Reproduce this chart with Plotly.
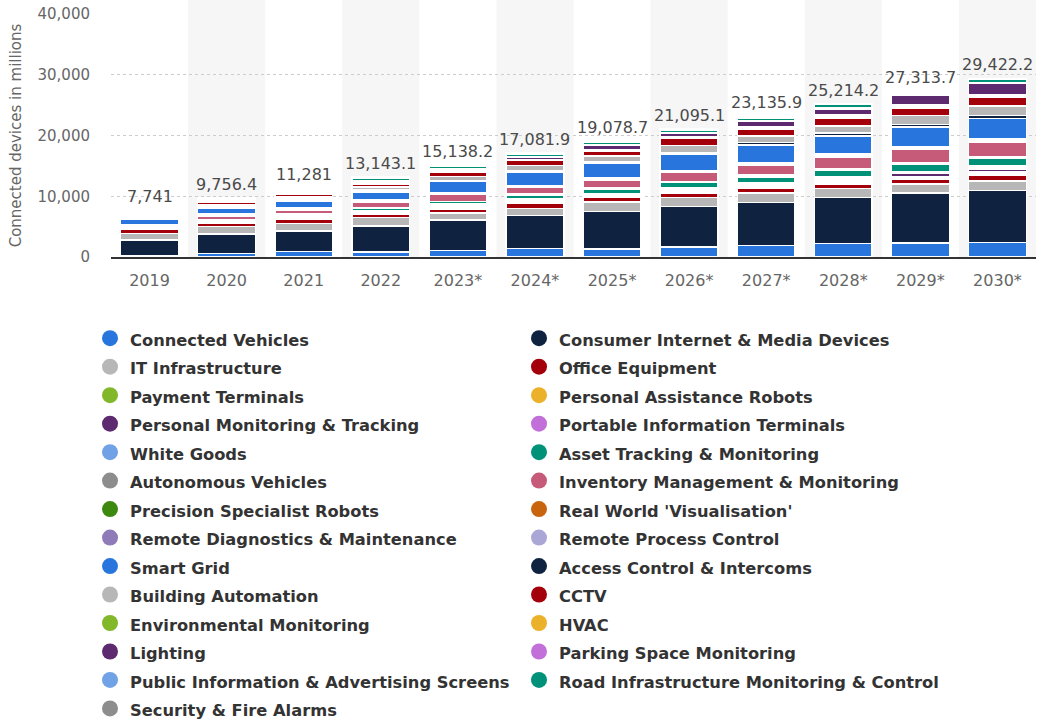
import plotly.graph_objects as go

years = ["2019", "2020", "2021", "2022", "2023*", "2024*", "2025*", "2026*",
         "2027*", "2028*", "2029*", "2030*"]
totals = [7741, 9756.4, 11281, 13143.1, 15138.2, 17081.9, 19078.7, 21095.1,
          23135.9, 25214.2, 27313.7, 29422.2]

series_names = [
    "Connected Vehicles", "Consumer Internet & Media Devices", "IT Infrastructure",
    "Office Equipment", "Payment Terminals", "Personal Assistance Robots",
    "Personal Monitoring & Tracking", "Portable Information Terminals", "White Goods",
    "Asset Tracking & Monitoring", "Autonomous Vehicles", "Inventory Management & Monitoring",
    "Precision Specialist Robots", "Real World 'Visualisation'",
    "Remote Diagnostics & Maintenance", "Remote Process Control", "Smart Grid",
    "Access Control & Intercoms", "Building Automation", "CCTV",
    "Environmental Monitoring", "HVAC", "Lighting", "Parking Space Monitoring",
    "Public Information & Advertising Screens", "Road Infrastructure Monitoring & Control",
    "Security & Fire Alarms",
]

colors = [
    "#2876dd", "#0f2340", "#b7b7b7", "#a3000c", "#80b82a", "#ecb12a", "#5d2a70",
    "#c26fd9", "#70a2e5", "#009278", "#8d8d8d", "#c55b78", "#3d880f", "#c8640e",
    "#8f7bb7", "#aaa6d6", "#2876dd", "#0f2340", "#b7b7b7", "#a3000c", "#80b82a",
    "#ecb12a", "#5d2a70", "#c26fd9", "#70a2e5", "#009278", "#8d8d8d",
]

connected_vehicles = [200, 610, 885, 829, 1104, 1379, 1351, 1653, 1874, 2203, 2312, 2423]
consumer_internet = [2635, 3160, 3378, 4258, 4972, 5439, 6153, 6648, 7086, 7581, 8186, 8541]
it_infrastructure = [1043, 1248, 1291, 1428, 1208, 1180, 1511, 1483, 1538, 1483, 1483, 1539]
office_equipment = [715, 564, 687, 550, 659, 797, 769, 742, 796, 714, 742, 961]
payment_terminals = [64, 70, 77, 110, 154, 148, 110, 170, 198, 258, 247, 302]
personal_assistance_robots = [64, 70, 77, 110, 154, 148, 110, 170, 198, 258, 247, 303]
personal_monitoring = [64, 70, 77, 110, 154, 148, 110, 170, 198, 258, 522, 439]
portable_info_terminals = [64, 70, 77, 110, 154, 149, 110, 170, 198, 258, 151, 220]
white_goods = [64, 70, 76, 109, 154, 149, 109, 171, 197, 259, 151, 274]
asset_tracking = [64, 74, 330, 384, 384, 685, 878, 879, 917, 962, 1178, 1181]
autonomous_vehicles = [64, 70, 110, 110, 55, 111, 110, 110, 310, 301, 310, 302]
inventory_management = [64, 714, 659, 879, 1099, 1126, 1373, 1538, 1630, 1896, 2192, 2418]
precision_robots = [64, 82, 96, 96, 82, 82, 82, 89, 96, 137, 123, 130]
real_world_visualisation = [64, 82, 96, 96, 82, 82, 82, 89, 96, 137, 123, 130]
remote_diagnostics = [64, 82, 96, 96, 82, 82, 83, 89, 96, 137, 124, 131]
remote_process_control = [64, 83, 97, 97, 83, 83, 83, 89, 96, 138, 124, 131]
smart_grid = [934, 918, 1137, 1318, 1813, 2125, 2472, 2693, 2912, 2939, 3187, 3378]
access_control = [145, 310, 310, 310, 137, 310, 165, 247, 439, 467, 439, 495]
building_automation = [145, 310, 310, 550, 741, 807, 989, 1180, 1044, 1208, 1457, 1565]
cctv = [145, 386, 439, 507, 659, 824, 798, 1099, 1180, 1182, 1236, 1427]
environmental_monitoring = [145, 102, 139, 85, 110, 41, 95, 123, 151, 288, 288, 247]
hvac = [145, 102, 139, 85, 110, 41, 96, 124, 152, 288, 288, 248]
lighting = [145, 102, 139, 85, 110, 440, 797, 632, 907, 961, 1484, 1758]
parking_space = [145, 102, 139, 85, 110, 27, 41, 41, 82, 96, 55, 55]
public_information = [145, 102, 139, 86, 111, 27, 41, 41, 83, 96, 54, 56]
road_infrastructure = [145, 102, 139, 460, 439, 466, 357, 358, 352, 660, 330, 686]
security_fire = [141, 101.4, 142, 200.1, 218.2, 185.9, 203.7, 297.1, 309.9, 49.2, 280.7, 82.2]

series_values = [
    connected_vehicles, consumer_internet, it_infrastructure, office_equipment,
    payment_terminals, personal_assistance_robots, personal_monitoring,
    portable_info_terminals, white_goods, asset_tracking, autonomous_vehicles,
    inventory_management, precision_robots, real_world_visualisation,
    remote_diagnostics, remote_process_control, smart_grid, access_control,
    building_automation, cctv, environmental_monitoring, hvac, lighting,
    parking_space, public_information, road_infrastructure, security_fire,
]

y_ticks = [0, 10000, 20000, 30000, 40000]

FONT = "DejaVu Sans"
# segments thinner than about two pixels are hidden by the white borders in the original
MIN_VISIBLE = 320

fig = go.Figure()

for name, vals, col in zip(series_names, series_values, colors):
    point_colors = [col if v >= MIN_VISIBLE else "white" for v in vals]
    fig.add_trace(go.Bar(
        x=years, y=vals, name=name, marker_color=point_colors,
        marker_line_color="white", marker_line_width=1.5,
        showlegend=False, legendgroup=name, hoverinfo="skip",
    ))

for name, col in zip(series_names, colors):
    fig.add_trace(go.Scatter(
        x=[None], y=[None], mode="markers", legendgroup=name,
        name='<span style="font-size:16.3px">' + name + '</span>',
        marker=dict(symbol="circle", size=16, color=col, line=dict(width=0)),
        showlegend=True, hoverinfo="skip",
    ))

def fmt(v):
    s = f"{v:,.1f}"
    return s[:-2] if s.endswith(".0") else s

for i, tot in enumerate(totals):
    fig.add_annotation(x=i, y=tot, text=fmt(tot), showarrow=False,
                       xref="x", yref="y", yanchor="bottom", yshift=2,
                       font=dict(family=FONT, size=16, color="#4a4a4a"))

shapes = []
for i in range(1, len(years), 2):
    shapes.append(dict(type="rect", xref="x", yref="paper", x0=i - 0.5, x1=i + 0.5,
                       y0=0, y1=1.058, fillcolor="#f6f6f6", line=dict(width=0),
                       layer="below"))

fig.update_layout(
    width=1039, height=723,
    margin=dict(l=111, r=3, t=14, b=466, autoexpand=False),
    paper_bgcolor="white", plot_bgcolor="white",
    barmode="stack", bargap=0.25,
    shapes=shapes,
    showlegend=True,
    legend=dict(
        orientation="h", x=-0.0227, xanchor="left", y=-0.255, yanchor="top",
        entrywidth=384, entrywidthmode="pixels", maxheight=450,
        font=dict(family=FONT, size=19.6, color="#333333", weight="bold"),
        bgcolor="rgba(0,0,0,0)", tracegroupgap=0,
    ),
    xaxis=dict(
        type="category", range=[-0.5, len(years) - 0.5], showgrid=False,
        showline=True, linecolor="#333333",
        linewidth=1.5, ticks="", ticklabelstandoff=8,
        tickfont=dict(family=FONT, size=16, color="#666666"),
    ),
    yaxis=dict(
        range=[0, 40000], tickvals=y_ticks, tickformat=",",
        showgrid=True, gridcolor="#cccccc", griddash="dot", gridwidth=1,
        zeroline=False, showline=False, ticks="", ticklabelstandoff=20,
        tickfont=dict(family=FONT, size=15, color="#666666"),
        title=dict(text="Connected devices in millions", standoff=12,
                   font=dict(family=FONT, size=15, color="#666666")),
    ),
)

fig.write_html("out.html", config={"displayModeBar": False},
               post_script="document.body.style.margin='0';")
